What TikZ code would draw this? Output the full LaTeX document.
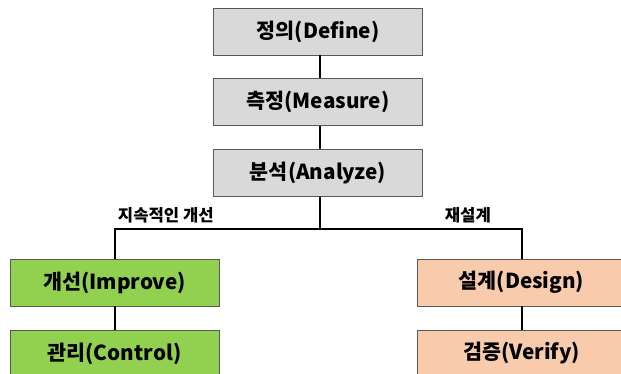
\documentclass[tikz,border=0pt]{standalone}
\usepackage{fontspec}
\setmainfont{Noto Sans CJK KR}
\usepackage{tikz}
\usetikzlibrary{positioning}
\definecolor{boxgray}{HTML}{D9D9D9}
\definecolor{boxgreen}{HTML}{92D050}
\definecolor{boxpeach}{HTML}{F8CBAD}
\definecolor{edgegray}{HTML}{595959}
\tikzset{
  stagebox/.style={draw=edgegray, line width=0.7pt, minimum width=156.75pt, minimum height=35.25pt,
    inner sep=0pt, font=\fontsize{15.5}{18}\selectfont\bfseries},
  link/.style={line width=1.5pt},
  branchlabel/.style={inner sep=0pt, font=\fontsize{12.5}{14}\selectfont\bfseries}
}

\begin{document}
\begin{tikzpicture}[x=0.75pt, y=-0.75pt]
  \useasboundingbox (0,0) rectangle (621,374);
  \clip (0,0) rectangle (621,374);

  \node[stagebox, fill=boxgray] (define) at (318,31.5) {정의(Define)};
  \node[stagebox, fill=boxgray] (measure) at (318,102) {측정(Measure)};
  \node[stagebox, fill=boxgray] (analyze) at (318,173) {분석(Analyze)};

  \node[stagebox, fill=boxgreen] (improve) at (114.5,282.5) {개선(Improve)};
  \node[stagebox, fill=boxgreen] (control) at (114.5,353.5) {관리(Control)};

  \node[stagebox, fill=boxpeach] (design) at (521.5,282.5) {설계(Design)};
  \node[stagebox, fill=boxpeach] (verify) at (521.5,353.5) {검증(Verify)};

  \coordinate (split) at (320,229);

  \draw[link] (define.south -| split) -- (measure.north -| split);
  \draw[link] (measure.south -| split) -- (analyze.north -| split);
  \draw[link] (analyze.south -| split) -- (split);
  \draw[link] (split) -| (improve.north)
    node[branchlabel, pos=0.375, above=3.5pt] {지속적인 개선};
  \draw[link] (split) -| (design.north)
    node[branchlabel, pos=0.367, above=3.5pt] {재설계};
  \draw[link] (improve) -- (control);
  \draw[link] (design) -- (verify);
\end{tikzpicture}
\end{document}
